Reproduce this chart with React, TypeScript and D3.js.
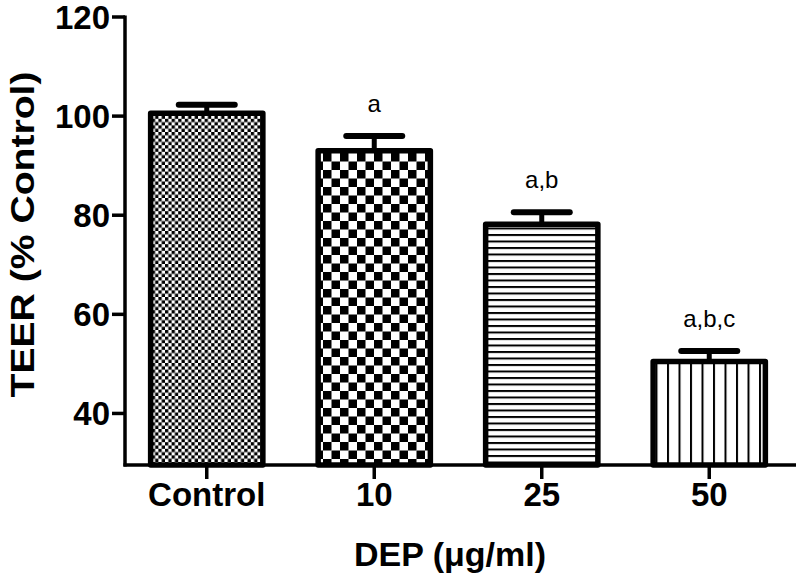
import React from "react";
import * as d3 from "d3";

const categories = ["Control", "10", "25", "50"];
const means = [100.6, 93.0, 78.2, 50.5];
const errors = [1.7, 3.0, 2.4, 2.1];
const sigLabels = ["", "a", "a,b", "a,b,c"];
const yTicks = [40, 60, 80, 100, 120];
const yTitle = "TEER (% Control)";
const xTitle = "DEP (\u03bcg/ml)";

const W = 800;
const H = 580;
const axisX = 125;
const axisY = 465;

export default function App() {
  const y = d3.scaleLinear().domain([30, 120]).range([463, 17]);
  const x = d3
    .scaleBand<string>()
    .domain(categories)
    .range([123, 793])
    .paddingInner(0.33)
    .paddingOuter(0.165);
  const bw = x.bandwidth();
  const patterns = ["pFine", "pCoarse", "pHoriz", "pVert"];
  const font = "'Liberation Sans', Arial, sans-serif";

  return (
    <svg
      width={W}
      height={H}
      style={{ position: "absolute", left: 0, top: 0, background: "#fff" }}
    >
      <defs>
        <pattern id="pFine" patternUnits="userSpaceOnUse" width={6.6} height={6.6}>
          <rect width={6.6} height={6.6} fill="#fff" />
          <rect x={0} y={0} width={3.3} height={3.3} fill="#000" />
          <rect x={3.3} y={3.3} width={3.3} height={3.3} fill="#000" />
        </pattern>
        <pattern id="pCoarse" patternUnits="userSpaceOnUse" width={17} height={17}>
          <rect width={17} height={17} fill="#fff" />
          <rect x={0} y={0} width={8.5} height={8.5} fill="#000" />
          <rect x={8.5} y={8.5} width={8.5} height={8.5} fill="#000" />
        </pattern>
        <pattern id="pHoriz" patternUnits="userSpaceOnUse" width={10} height={6.5}>
          <rect width={10} height={6.5} fill="#fff" />
          <rect x={0} y={0} width={10} height={2} fill="#000" />
        </pattern>
        <pattern id="pVert" patternUnits="userSpaceOnUse" width={11.5} height={10}>
          <rect width={11.5} height={10} fill="#fff" />
          <rect x={0} y={0} width={2} height={10} fill="#000" />
        </pattern>
      </defs>
      <rect width={W} height={H} fill="#fff" />

      {/* bars */}
      {categories.map((c, i) => {
        const bx = x(c)!;
        const top = y(means[i]);
        const cx = bx + bw / 2;
        const capY = y(means[i] + errors[i]);
        return (
          <g key={c}>
            <line x1={cx} x2={cx} y1={top} y2={capY} stroke="#000" strokeWidth={5} />
            <line
              x1={cx - 28}
              x2={cx + 28}
              y1={capY}
              y2={capY}
              stroke="#000"
              strokeWidth={6}
              strokeLinecap="round"
            />
            <rect
              x={bx}
              y={top}
              width={bw}
              height={axisY - top}
              fill={`url(#${patterns[i]})`}
              stroke="#000"
              strokeWidth={5.5}
              strokeLinejoin="round"
            />
            {sigLabels[i] && (
              <text
                x={cx}
                y={capY - 24}
                textAnchor="middle"
                fontFamily={font}
                fontSize={24}
                fill="#000"
              >
                {sigLabels[i]}
              </text>
            )}
          </g>
        );
      })}

      {/* y axis */}
      <line x1={axisX} x2={axisX} y1={y(120) - 1.5} y2={axisY + 1.5} stroke="#000" strokeWidth={3.5} />
      {yTicks.map((t) => (
        <g key={t}>
          <line x1={112} x2={axisX} y1={y(t)} y2={y(t)} stroke="#000" strokeWidth={3.5} />
          <text
            x={110}
            y={y(t)}
            dy="0.36em"
            textAnchor="end"
            fontFamily={font}
            fontWeight="bold"
            fontSize={33}
            fill="#000"
          >
            {t}
          </text>
        </g>
      ))}

      {/* x axis */}
      <line x1={axisX - 1.5} x2={796} y1={axisY} y2={axisY} stroke="#000" strokeWidth={3.5} />
      {categories.map((c) => {
        const cx = x(c)! + bw / 2;
        return (
          <g key={c}>
            <line x1={cx} x2={cx} y1={axisY} y2={479} stroke="#000" strokeWidth={3.5} />
            <text
              x={cx}
              y={506}
              textAnchor="middle"
              fontFamily={font}
              fontWeight="bold"
              fontSize={33}
              fill="#000"
            >
              {c}
            </text>
          </g>
        );
      })}

      {/* titles */}
      <text
        x={450}
        y={566}
        textAnchor="middle"
        fontFamily={font}
        fontWeight="bold"
        fontSize={34}
        fill="#000"
      >
        {xTitle}
      </text>
      <text
        transform={`translate(34, ${(72 + 397) / 2}) rotate(-90)`}
        textAnchor="middle"
        fontFamily={font}
        fontWeight="bold"
        fontSize={33}
        textLength={326}
        lengthAdjust="spacingAndGlyphs"
        fill="#000"
      >
        {yTitle}
      </text>
    </svg>
  );
}
